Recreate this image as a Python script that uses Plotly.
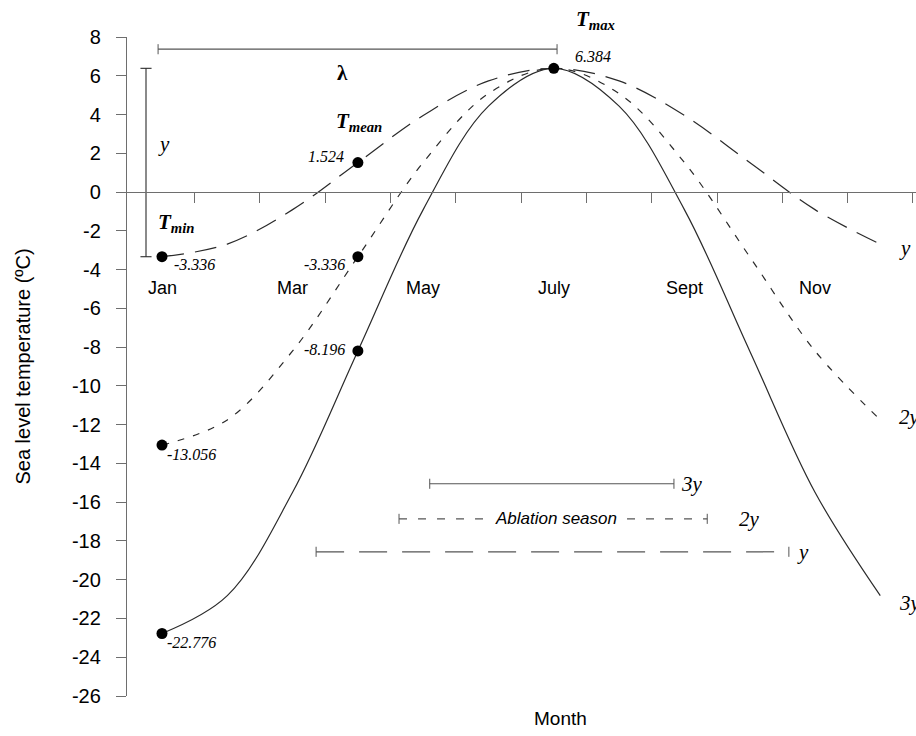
import plotly.graph_objects as go

# ---- data -------------------------------------------------------------
months = [1, 2, 3, 4, 5, 6, 7, 8, 9, 10, 11, 12]
month_label_pos = [1, 3, 5, 7, 9, 11]
month_labels = ["Jan", "Mar", "May", "July", "Sept", "Nov"]

y_ticks = [-26, -24, -22, -20, -18, -16, -14, -12, -10, -8, -6, -4, -2, 0, 2, 4, 6, 8]
y_tick_text = ["-26", "-24", "-22", "-20", "-18", "-16", "-14", "-12", "-10",
               "-8", "-6", "-4", "-2", "0", "2", "4", "6", "8"]

# monthly sea level temperature (ºC) for amplitudes y, 2y and 3y
temp_y = [-3.336, -2.685, -0.906, 1.524, 3.954, 5.733, 6.384, 5.733, 3.954, 1.524, -0.906, -2.685]
temp_2y = [-13.056, -11.754, -8.196, -3.336, 1.524, 5.082, 6.384, 5.082, 1.524, -3.336, -8.196, -11.754]
temp_3y = [-22.776, -20.823, -15.486, -8.196, -0.906, 4.431, 6.384, 4.431, -0.906, -8.196, -15.486, -20.823]

# highlighted points: Tmin (Jan), Tmean (Apr) and the shared Tmax (July)
point_month = [1, 4, 1, 4, 1, 4, 7]
point_temp = [-3.336, 1.524, -13.056, -3.336, -22.776, -8.196, 6.384]
point_text = ["-3.336", "1.524", "-13.056", "-3.336", "-22.776", "-8.196", "6.384"]

# ablation season (months above 0 ºC) for each amplitude
abl_labels = ["3y", "2y", "y"]
abl_start = [5.10, 4.63, 3.36]
abl_end = [8.84, 9.35, 10.60]
abl_level = [-15.05, -16.86, -18.56]

# period (lambda) and amplitude (y) brackets
lambda_span = [0.94, 7.05]
lambda_level = 7.37
amp_month = 0.755
amp_span = [-3.336, 6.384]

# ---- style ------------------------------------------------------------
SANS = "Liberation Sans, Arial, sans-serif"
SERIF = "Liberation Serif, Times New Roman, serif"
AXIS_COL = "#6e6e6e"
LINE_COL = "#2a2a2a"
BRK_COL = "#555555"

fig = go.Figure()

curve_styles = [
    (temp_y, "22px,11px"),
    (temp_2y, "7px,9px"),
    (temp_3y, "solid"),
]
for values, dash in curve_styles:
    fig.add_trace(go.Scatter(
        x=months, y=values, mode="lines",
        line=dict(color=LINE_COL, width=1.2, dash=dash, shape="spline", smoothing=1.0),
        hoverinfo="skip", showlegend=False,
    ))

fig.add_trace(go.Scatter(
    x=point_month, y=point_temp, mode="markers",
    marker=dict(color="black", size=11),
    hoverinfo="skip", showlegend=False, cliponaxis=False,
))


def hbracket(x0, x1, y, cap, color, dash="solid", width=1.2):
    fig.add_trace(go.Scatter(
        x=[x0, x1], y=[y, y], mode="lines",
        line=dict(color=color, width=width, dash=dash),
        hoverinfo="skip", showlegend=False,
    ))
    fig.add_trace(go.Scatter(
        x=[x0, x0, None, x1, x1], y=[y - cap, y + cap, None, y - cap, y + cap],
        mode="lines", line=dict(color=color, width=1.0),
        hoverinfo="skip", showlegend=False,
    ))


# lambda bracket
hbracket(lambda_span[0], lambda_span[1], lambda_level, 0.26, BRK_COL)

# amplitude bracket (vertical)
cap_x = 0.085
fig.add_trace(go.Scatter(
    x=[amp_month, amp_month, None, amp_month - cap_x, amp_month + cap_x, None,
       amp_month - cap_x, amp_month + cap_x],
    y=[amp_span[0], amp_span[1], None, amp_span[0], amp_span[0], None,
       amp_span[1], amp_span[1]],
    mode="lines", line=dict(color=LINE_COL, width=1.1),
    hoverinfo="skip", showlegend=False,
))

# ablation season bars
abl_dash = ["solid", "8px,11px", "28px,15px"]
for lab, x0, x1, lev, dash in zip(abl_labels, abl_start, abl_end, abl_level, abl_dash):
    hbracket(x0, x1, lev, 0.26, BRK_COL, dash=dash)

annotations = []

# month names along the zero line
for pos, lab in zip(month_label_pos, month_labels):
    annotations.append(dict(x=pos, y=-4.95, text=lab, showarrow=False,
                            font=dict(family=SANS, size=18, color="black"),
                            xanchor="center", yanchor="middle"))

# value labels next to the highlighted points
label_offsets = [
    ("left", 10, -8), ("right", -12, 6), ("left", 3, -9), ("right", -11, -8),
    ("left", 3, -9), ("right", -11, 1), ("left", 19, 12),
]
for m, t, txt, (anc, dx, dy) in zip(point_month, point_temp, point_text, label_offsets):
    annotations.append(dict(x=m, y=t, text="<i>%s</i>" % txt, showarrow=False,
                            xanchor=anc, yanchor="middle", xshift=dx, yshift=dy,
                            font=dict(family=SERIF, size=16, color="black")))

# T labels
t_font = dict(family=SERIF, size=21, color="black")
annotations.append(dict(x=0.91, y=-1.6, text="<b><i>T<sub>min</sub></i></b>",
                        showarrow=False, xanchor="left", yanchor="middle", font=t_font))
annotations.append(dict(x=3.63, y=3.6, text="<b><i>T<sub>mean</sub></i></b>",
                        showarrow=False, xanchor="left", yanchor="middle", font=t_font))
annotations.append(dict(x=7.31, xref="x", y=1.026, yref="paper",
                        text="<b><i>T<sub>max</sub></i></b>",
                        showarrow=False, xanchor="left", yanchor="middle", font=t_font))

# bracket symbols
annotations.append(dict(x=3.76, y=6.15, text="<b>λ</b>", showarrow=False,
                        font=dict(family=SERIF, size=21, color="black")))
annotations.append(dict(x=1.03, y=2.5, text="<i>y</i>", showarrow=False,
                        font=dict(family=SERIF, size=21, color="black")))

# curve end labels
curve_end_labels = ["y", "2y", "3y"]
curve_end_y = [-2.9, -11.6, -21.2]
for lab, yv in zip(curve_end_labels, curve_end_y):
    annotations.append(dict(x=12.25, y=yv, text="<i>%s</i>" % lab, showarrow=False,
                            xanchor="left", yanchor="middle",
                            font=dict(family=SERIF, size=21, color="black")))

# ablation bar labels
abl_label_x = [8.92, 9.8, 10.7]
for lab, xv, lev in zip(abl_labels, abl_label_x, abl_level):
    annotations.append(dict(x=xv, y=lev, text="<i>%s</i>" % lab, showarrow=False,
                            xanchor="left", yanchor="middle",
                            font=dict(family=SERIF, size=21, color="black")))

annotations.append(dict(x=(abl_start[1] + abl_end[1]) / 2 + 0.04, y=abl_level[1],
                        text="<i>Ablation season</i>", showarrow=False,
                        bgcolor="white", borderpad=3,
                        font=dict(family=SANS, size=17, color="black")))

# axis titles
annotations.append(dict(x=-0.133, xref="paper", y=0.5, yref="paper",
                        text="Sea level temperature (ºC)", textangle=-90,
                        showarrow=False, xanchor="center", yanchor="middle",
                        font=dict(family=SANS, size=20, color="black")))
annotations.append(dict(x=0.549, xref="paper", y=-0.034, yref="paper",
                        text="Month", showarrow=False,
                        xanchor="center", yanchor="middle",
                        font=dict(family=SANS, size=19, color="black")))

fig.update_layout(
    width=916, height=736,
    margin=dict(l=127, r=0, t=37, b=40),
    paper_bgcolor="white", plot_bgcolor="white",
    showlegend=False,
    annotations=annotations,
    xaxis=dict(
        range=[0.464, 12.547], anchor="free", position=26 / 34,
        showline=True, linecolor=AXIS_COL, linewidth=1.3,
        ticks="outside", tickvals=[m + 0.5 for m in months], ticklen=10,
        tickcolor=AXIS_COL, tickwidth=1.2,
        showticklabels=False, showgrid=False, zeroline=False,
    ),
    yaxis=dict(
        range=[-26, 8], showline=True, linecolor=AXIS_COL, linewidth=1.3,
        ticks="outside", tickvals=y_ticks, ticktext=y_tick_text, ticklen=10,
        tickcolor=AXIS_COL, tickwidth=1.2, ticklabelstandoff=11,
        tickfont=dict(family=SANS, size=20, color="black"),
        showgrid=False, zeroline=False,
    ),
)

fig.write_html("out.html")
